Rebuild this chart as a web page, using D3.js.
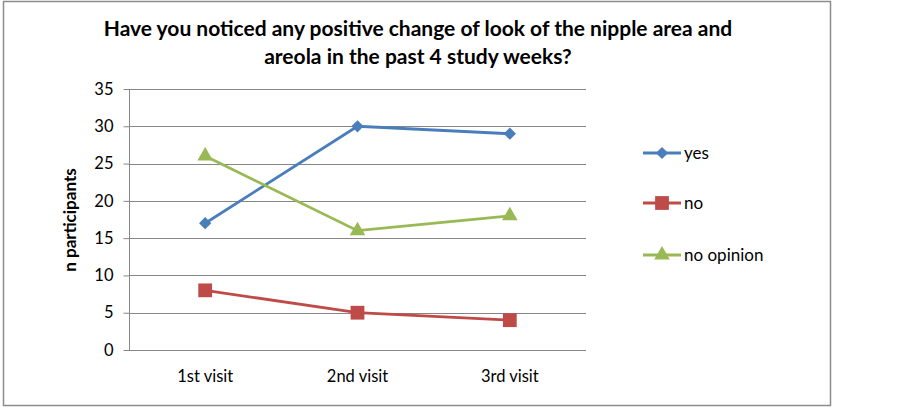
<!DOCTYPE html>
<html><head><meta charset="utf-8">
<script src="https://cdn.jsdelivr.net/npm/d3@7"></script>
<style>body{margin:0;background:#fff}svg{display:block}text{font-family:Lato,"Open Sans",sans-serif}</style>
</head><body><svg id="c" width="903" height="408"></svg>
<script>
const categories = ["1st visit","2nd visit","3rd visit"];
const seriesNames = ["yes","no","no opinion"];
const yesValues = [17,30,29];
const noValues = [8,5,4];
const noOpinionValues = [26,16,18];
const yTicks = [0,5,10,15,20,25,30,35];
const colors = ["#4A7EBB","#BE4B48","#98B954"];
const series = [yesValues,noValues,noOpinionValues];

const svg = d3.select("#c");
svg.append("rect").attr("x",3.5).attr("y",1.5).attr("width",827).attr("height",404)
  .attr("fill","#fff").attr("stroke","#8c8c8c").attr("stroke-width",1.5);

const x = d3.scaleBand().domain(categories).range([129,586]);
const y = d3.scaleLinear().domain([0,35]).range([350,89]);

svg.append("g").selectAll("line").data(yTicks.filter(d=>d>0)).join("line")
  .attr("x1",129).attr("x2",586).attr("y1",d=>Math.round(y(d))+0.5).attr("y2",d=>Math.round(y(d))+0.5)
  .attr("stroke","#868686").attr("stroke-width",1);

const ya = svg.append("g").attr("transform","translate(129.5,0)")
  .call(d3.axisLeft(y).tickValues(yTicks).tickSize(6).tickPadding(10));
ya.attr("font-family",null).attr("font-size",null);
ya.select(".domain").attr("stroke","#868686").attr("d","M0,89V350.5");
ya.selectAll(".tick line").attr("stroke","#868686");
ya.selectAll("text").style("font-size","16.5px").attr("fill","#000");

const xa = svg.append("g").attr("transform","translate(0,350.5)")
  .call(d3.axisBottom(x).tickSize(0).tickPadding(20));
xa.attr("font-family",null).attr("font-size",null);
xa.select(".domain").attr("stroke","#868686").attr("d","M129,0H586");
xa.selectAll("text").style("font-size","16.5px").attr("fill","#000");

svg.append("text").attr("transform","translate(76,220) rotate(-90)").attr("text-anchor","middle")
  .style("font-size","17px").attr("font-weight","bold").text("n participants");

const title = svg.append("text").attr("text-anchor","middle").style("font-size","21px").attr("font-weight","bold");
title.append("tspan").attr("x",418).attr("y",36).text("Have you noticed any positive change of look of the nipple area and");
title.append("tspan").attr("x",418).attr("y",64).text("areola in the past 4 study weeks?");

const line = d3.line().x((d,i)=>x(categories[i])+x.bandwidth()/2).y(d=>y(d));
const shapes = [d3.symbolSquare, d3.symbolSquare, d3.symbolTriangle];
const rot = [45,0,0];
const sizes = [75,190,105];
series.forEach((vals,si)=>{
  svg.append("path").datum(vals).attr("d",line).attr("fill","none")
    .attr("stroke",colors[si]).attr("stroke-width",2.8);
  svg.append("g").selectAll("path").data(vals).join("path")
    .attr("transform",(d,i)=>`translate(${x(categories[i])+x.bandwidth()/2},${y(d)}) rotate(${rot[si]})`)
    .attr("d",d3.symbol().type(shapes[si]).size(sizes[si])).attr("fill",colors[si]);
});

const legY = [153,203,255];
seriesNames.forEach((n,i)=>{
  const g = svg.append("g");
  g.append("line").attr("x1",643).attr("x2",681).attr("y1",legY[i]).attr("y2",legY[i])
    .attr("stroke",colors[i]).attr("stroke-width",2.8);
  g.append("path").attr("transform",`translate(662,${legY[i]}) rotate(${rot[i]})`)
    .attr("d",d3.symbol().type(shapes[i]).size(sizes[i])).attr("fill",colors[i]);
  g.append("text").attr("x",684).attr("y",legY[i]+6).style("font-size","17px").text(n);
});
</script></body></html>
